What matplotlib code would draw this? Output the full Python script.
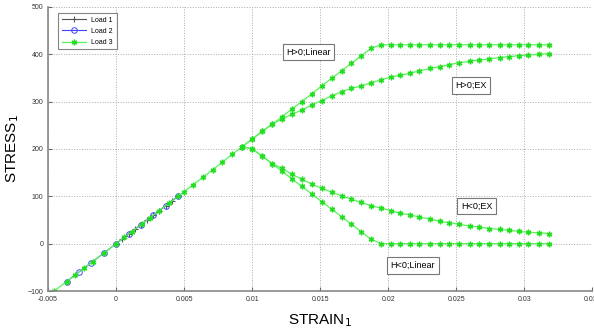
import numpy as np
import matplotlib
matplotlib.use("Agg")
import matplotlib.pyplot as plt

plt.rcParams['font.family'] = ['Liberation Sans', 'DejaVu Sans']

# Load 1 and Load 2: elastic part only
load1_strain = [0.0, 0.00045, 0.00091, 0.00136, 0.00182, 0.00227, 0.00273, 0.00318, 0.00364, 0.00409, 0.00455]
load1_stress = [0, 10, 20, 30, 40, 50, 60, 70, 80, 90, 100]

load2_strain = [-0.00364, -0.00273, -0.00182, -0.00091, 0.0, 0.00091, 0.00182, 0.00273, 0.00364, 0.00455]
load2_stress = [-80, -60, -40, -20, 0, 20, 40, 60, 80, 100]

# Load 3: elastic part up to yield
load3_strain = [-0.00455, -0.00364, -0.0030, -0.00236, -0.00173, -0.00086, 0.0, 0.00059, 0.00114,
                0.00191, 0.0025, 0.00318, 0.00386, 0.00455, 0.0050, 0.00564, 0.00637, 0.0071,
                0.0078, 0.00855, 0.00928]
load3_stress = [-100, -80, -66, -52, -38, -19, 0, 13, 25, 42, 55, 70, 85, 100, 110, 124, 140,
                156, 172, 189, 205]

# Load 3: post-yield branches (share strain values)
branch_strain = [0.00928, 0.0100, 0.01074, 0.01147, 0.0122, 0.0129, 0.01365, 0.01438, 0.0151, 0.01584,
                 0.01657, 0.0173, 0.01802, 0.01876, 0.0195, 0.0202, 0.0209, 0.0216, 0.0223,
                 0.0231, 0.0238, 0.0245, 0.0252, 0.0260, 0.0267, 0.0274, 0.0282, 0.0289,
                 0.0296, 0.0303, 0.0311, 0.0318]
hpos_linear = [205, 221, 237, 252, 268, 284, 300, 316, 333, 349, 365, 381, 397, 413, 420, 420, 420,
               420, 420, 420, 420, 420, 420, 420, 420, 420, 420, 420, 420, 420, 420, 420]
hpos_ex = [205, 221, 237, 253, 263, 273, 282, 293, 302, 312, 321, 328, 333, 340, 346, 352, 356,
           360, 365, 370, 374, 378, 382, 385, 388, 390, 393, 395, 397, 398, 400, 401]
hneg_linear = [205, 200, 185, 169, 153, 137, 121, 105, 89, 73, 57, 41, 25, 9, 0, 0, 0,
               0, 0, 0, 0, 0, 0, 0, 0, 0, 0, 0, 0, 0, 0, 0]
hneg_ex = [205, 200, 185, 169, 159, 147, 136, 126, 117, 109, 101, 94, 87, 80, 75, 70, 64,
           61, 56, 52, 47, 44, 41, 37, 35, 32, 30, 28, 26, 24, 23, 21]

branch_labels = ["H>0;Linear", "H>0;EX", "H<0;EX", "H<0;Linear"]
label_pos = [(0.01414, 405), (0.0261, 334), (0.0265, 79), (0.0218, -46)]

green = '#55f555'
star = (6, 2, 0)

fig = plt.figure(figsize=(5.94, 3.29), dpi=100)
ax = fig.add_axes([0.081, 0.1155, 0.916, 0.8635])

ax.plot(load1_strain, load1_stress, color='#555555', lw=0.8, marker='+', ms=4, mew=0.8, label='Load 1')
ax.plot(load2_strain, load2_stress, color='#4444ff', lw=0.8, marker='o', ms=4, mfc='none', mew=0.7, label='Load 2')
ax.plot(load3_strain, load3_stress, color=green, lw=0.9, marker=star, ms=4, mew=1.0,
        mec='#22dd22', label='Load 3')
for ys in [hpos_linear, hpos_ex, hneg_linear, hneg_ex]:
    ax.plot(branch_strain, ys, color=green, lw=0.9, marker=star, ms=4, mew=1.0, mec='#22dd22')

for txt, (x, y) in zip(branch_labels, label_pos):
    ax.text(x, y, txt, fontsize=6.5, ha='center', va='center',
            bbox=dict(boxstyle='square,pad=0.4', fc='white', ec='#777777', lw=0.8))

ax.set_xlim(-0.005, 0.035)
ax.set_ylim(-100, 500)
ax.set_xticks(np.arange(-0.005, 0.0351, 0.005))
ax.set_xticklabels(['-0.005', '0', '0.005', '0.01', '0.015', '0.02', '0.025', '0.03', '0.035'])
ax.set_yticks(np.arange(-100, 501, 100))
ax.tick_params(direction='in', labelsize=5, length=3, color='#666666', labelcolor='#333333')
ax.grid(True, ls=':', color='#aaaaaa', lw=0.7)
ax.spines['top'].set_visible(False)
ax.spines['right'].set_visible(False)
ax.spines['left'].set_color('#888888')
ax.spines['bottom'].set_color('#888888')
ax.spines['left'].set_linewidth(1.2)
ax.spines['bottom'].set_linewidth(1.2)

ax.set_xlabel('STRAIN$_1$', fontsize=11)
ax.set_ylabel('STRESS$_1$', fontsize=11)
ax.xaxis.set_label_coords(0.5, -0.075)
ax.yaxis.set_label_coords(-0.05, 0.5)

leg = ax.legend(loc='upper left', fontsize=5, bbox_to_anchor=(0.012, 0.99), fancybox=False,
                edgecolor='#666666', borderpad=0.5, handlelength=3.5, labelspacing=0.6)
leg.get_frame().set_linewidth(0.8)

fig.savefig('out.png', dpi=100)
